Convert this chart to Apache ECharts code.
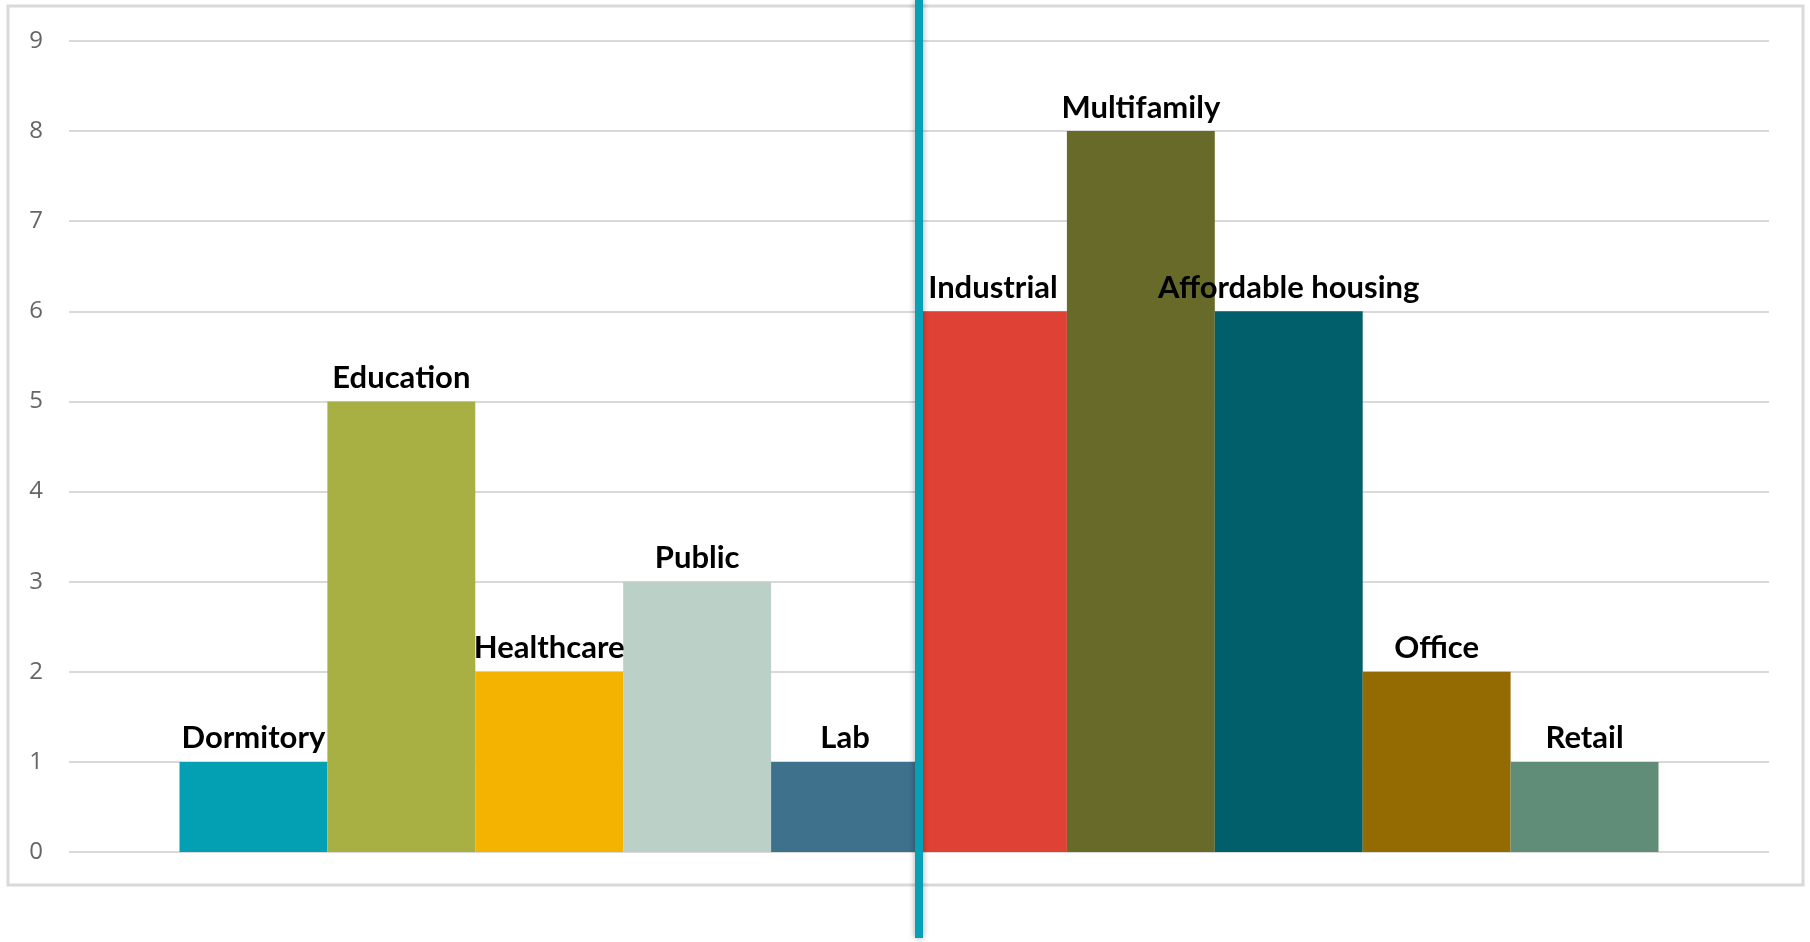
<!DOCTYPE html>
<html>
<head>
<meta charset="utf-8">
<script src="https://cdn.jsdelivr.net/npm/echarts@6/dist/echarts.min.js"></script>
<style>
  html, body { margin: 0; padding: 0; background: #ffffff; }
  #chart { width: 1810px; height: 942px; }
</style>
</head>
<body>
<div id="chart"></div>
<script>
// Project types and counts
const categories = ['Dormitory', 'Education', 'Healthcare', 'Public', 'Lab',
  'Industrial', 'Multifamily', 'Affordable housing', 'Office', 'Retail'];
const counts = [1, 5, 2, 3, 1, 6, 8, 6, 2, 1];
const colors = ['#03A0B3', '#A9B043', '#F4B300', '#BBD0C7', '#3E718C',
  '#DF4134', '#676A29', '#005F6B', '#946B02', '#5F8D77'];
const yTicks = [0, 9, 1]; // min, max, interval
// The divider sits after this group of bars
const dividerAfter = 'Lab';

const chart = echarts.init(document.getElementById('chart'));

const series = categories.map((name, i) => ({
  type: 'bar',
  name: name,
  data: [counts[i]],
  barGap: '0%',
  barCategoryGap: '13%',
  itemStyle: { color: colors[i] },
  label: {
    show: true,
    position: 'top',
    distance: 8,
    formatter: () => name,
    color: '#000000',
    fontFamily: 'Lato',
    fontWeight: 'bold',
    fontSize: 31
  },
  z: 2
}));

const frame = {
  type: 'rect',
  shape: { x: 8, y: 6, width: 1795, height: 879 },
  style: { fill: 'none', stroke: '#D9D9D9', lineWidth: 3 },
  silent: true,
  z: 0
};

chart.setOption({
  animation: false,
  backgroundColor: '#ffffff',
  grid: { left: 69, right: 41, top: 41, bottom: 90, containLabel: false },
  xAxis: {
    type: 'category',
    data: ['all'],
    axisLine: { show: false },
    axisTick: { show: false },
    axisLabel: { show: false },
    splitLine: { show: false }
  },
  yAxis: {
    type: 'value',
    min: yTicks[0],
    max: yTicks[1],
    interval: yTicks[2],
    axisLine: { show: false },
    axisTick: { show: false },
    axisLabel: {
      color: '#666666',
      fontFamily: 'Open Sans',
      fontSize: 24,
      margin: 26
    },
    splitLine: { lineStyle: { color: '#D9D9D9', width: 2 } }
  },
  series: series,
  graphic: [frame]
});

// Vertical divider placed at the right edge of the chosen bar
const idx = categories.indexOf(dividerAfter);
const layout = chart.getModel().getSeriesByIndex(idx).getData().getItemLayout(0);
const xLine = Math.round(layout.x + layout.width);
chart.setOption({
  graphic: [frame, {
    type: 'line',
    shape: { x1: xLine, y1: 0, x2: xLine, y2: 938 },
    style: {
      stroke: '#06A1B7',
      lineWidth: 8,
      shadowBlur: 6,
      shadowColor: 'rgba(0,0,0,0.35)'
    },
    silent: true,
    z: 100
  }]
});
</script>
</body>
</html>
